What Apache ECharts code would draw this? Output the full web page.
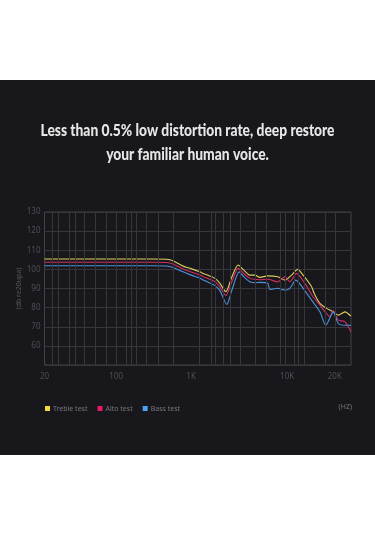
<!DOCTYPE html>
<html>
<head>
<meta charset="utf-8">
<script src="https://cdn.jsdelivr.net/npm/echarts@6/dist/echarts.min.js"></script>
<style>
html,body{margin:0;padding:0;background:#ffffff;}
#band{position:absolute;left:0;top:80px;width:375px;height:375px;background:#18181c;}
#chart{position:absolute;left:0;top:0;width:375px;height:535px;}
</style>
</head>
<body>
<div id="band"></div>
<div id="chart"></div>
<script>
// ---- data ----
const titleLines = ['Less than 0.5% low distortion rate, deep restore', 'your familiar human voice.'];
const seriesNames = ['Treble test', 'Alto test', 'Bass test'];
const xTickFreqs = [20, 100, 1000, 10000, 20000];
const xTickLabels = ['20', '100', '1K', '10K', '20K'];
const yTicks = [60, 70, 80, 90, 100, 110, 120, 130];
const freqMax = 25300;

const trebleFreq = [20, 100, 300, 470, 590, 782, 1000, 1232, 1334, 1766, 1990, 2298, 2655, 3090, 3540, 4087, 4610, 5198, 6296, 8000, 9460, 10660, 11640, 12620, 14270, 14820, 16100, 17760, 19560, 21030, 23180, 25300];
const trebleVal  = [105.4, 105.4, 105.4, 105.3, 104.3, 101.7, 100.4, 98.7, 97.9, 95.3, 92.8, 88.3, 96.0, 102.3, 99.6, 97.0, 97.0, 95.8, 96.6, 96.1, 94.4, 97.0, 100.0, 97.0, 90.9, 87.4, 82.2, 79.6, 77.8, 76.1, 77.8, 75.5];

const altoFreq = [20, 100, 300, 470, 590, 782, 1000, 1232, 1334, 1766, 1990, 2298, 2655, 3090, 3540, 4087, 4610, 5198, 6296, 8000, 9460, 10400, 11470, 12940, 14550, 16100, 17330, 18630, 19560, 21030, 23180, 25300];
const altoVal  = [103.7, 103.7, 103.7, 103.6, 102.6, 100.2, 98.6, 97.0, 96.2, 93.5, 91.0, 86.2, 93.5, 100.5, 97.8, 95.3, 94.8, 94.6, 94.8, 93.5, 96.1, 93.5, 97.9, 92.7, 85.7, 81.3, 77.8, 75.2, 78.3, 73.5, 72.6, 67.3];

const bassFreq = [20, 100, 300, 470, 590, 782, 1000, 1232, 1334, 1766, 1990, 2355, 2655, 3170, 3540, 4087, 4610, 5198, 6296, 6607, 8000, 9460, 10400, 11350, 12620, 14270, 16100, 17550, 19560, 21030, 23180, 25300];
const bassVal  = [101.9, 101.9, 101.9, 101.8, 100.8, 98.7, 97.0, 95.3, 94.5, 91.5, 89.0, 81.7, 89.0, 98.7, 96.1, 93.5, 93.0, 93.2, 92.7, 89.5, 90.1, 89.2, 90.1, 94.4, 90.1, 83.9, 77.8, 70.8, 77.8, 71.7, 70.8, 70.8];

// decorative vertical grid lines (frequencies)
const vGridFreqs = [23.7, 27.2, 34.8, 40.2, 48.4, 63, 80.6, 100, 134.7, 157, 183, 254, 363, 575, 1211, 1632, 1796, 2155, 2572, 3215, 4688, 5998, 8393, 9623, 11025, 11740, 12755, 17320, 20250];

// ---- warped frequency scale (the original axis is not a pure log scale) ----
const warpKnots = [0, 71.6, 146.6, 242.6, 290.3];
function warp(f) {
  const L = Math.log10;
  let i = 0;
  while (i < xTickFreqs.length - 2 && f > xTickFreqs[i + 1]) i++;
  const f0 = xTickFreqs[i], f1 = xTickFreqs[i + 1];
  const p0 = warpKnots[i], p1 = warpKnots[i + 1];
  return p0 + (L(f) - L(f0)) / (L(f1) - L(f0)) * (p1 - p0);
}
const xMax = warp(freqMax);
const tickPos = xTickFreqs.map(warp);

function pairs(fs, vs) { return fs.map((f, i) => [warp(f), vs[i]]); }

// title font: condensed look obtained by horizontal scaling
const titleFont = '900 16px Lato, "Noto Sans", sans-serif';
const mctx = document.createElement('canvas').getContext('2d');
mctx.font = titleFont;
const titleScale = 294 / mctx.measureText(titleLines[0]).width;

const lineColors = ['#dccd5a', '#d22a64', '#4b93dc'];
const iconColors = ['#f3d93e', '#e8186a', '#4aa3f2'];
const gridColor = '#36363b';

const chart = echarts.init(document.getElementById('chart'), null, {renderer: 'canvas'});
const mkSeries = (name, data, idx) => ({
  name, type: 'line', data, smooth: 0.25, symbol: 'none', z: 3,
  lineStyle: {color: lineColors[idx], width: 1.1},
  itemStyle: {color: iconColors[idx]},
  emphasis: {disabled: true}
});

chart.setOption({
  backgroundColor: 'transparent',
  animation: false,
  textStyle: {fontFamily: 'Noto Sans'},
  grid: {left: 44.5, top: 212, width: 306.5, height: 153, show: true, borderColor: '#414146', borderWidth: 1, containLabel: false},
  legend: {
    data: seriesNames, left: 40, top: 400, itemWidth: 5, itemHeight: 5, itemGap: 10, icon: 'rect',
    textStyle: {color: '#76767b', fontSize: 7, fontFamily: 'Noto Sans', padding: [0, 0, 0, -2]}
  },
  graphic: [
    {type: 'text', x: 187.5, y: 130.5, scaleX: titleScale, style: {text: titleLines[0], fill: '#e6e6e6', font: titleFont, textAlign: 'center', textVerticalAlign: 'middle'}},
    {type: 'text', x: 187.5, y: 154.5, scaleX: titleScale, style: {text: titleLines[1], fill: '#e6e6e6', font: titleFont, textAlign: 'center', textVerticalAlign: 'middle'}},
    {type: 'text', right: 23, top: 403, style: {text: '(HZ)', fill: '#76767b', font: '7px "Noto Sans"'}}
  ],
  xAxis: {
    type: 'value', min: 0, max: xMax,
    axisLine: {show: false}, axisTick: {show: false}, splitLine: {show: false},
    axisLabel: {
      customValues: tickPos, color: '#4e4e54', fontSize: 8, margin: 8,
      formatter: v => { let k = 0, d = Infinity; tickPos.forEach((p, i) => { if (Math.abs(p - v) < d) { d = Math.abs(p - v); k = i; } }); return xTickLabels[k]; }
    }
  },
  yAxis: {
    type: 'value', min: 50, max: 130, interval: 10,
    name: '(db re20upa)', nameLocation: 'middle', nameGap: 22, nameRotate: 90, nameMoveOverlap: false,
    nameTextStyle: {color: '#55555b', fontSize: 7, fontFamily: 'Noto Sans'},
    axisLine: {show: false}, axisTick: {show: false},
    axisLabel: {color: '#4e4e54', fontSize: 8, margin: 4, formatter: v => (yTicks.indexOf(v) >= 0 ? String(v) : '')},
    splitLine: {show: true, lineStyle: {color: gridColor, width: 1}}
  },
  series: [
    {
      type: 'line', data: [], z: 1, silent: true, symbol: 'none',
      markLine: {
        silent: true, symbol: ['none', 'none'], label: {show: false}, animation: false,
        lineStyle: {color: gridColor, width: 1, type: 'solid'},
        emphasis: {disabled: true},
        data: vGridFreqs.map(f => ({xAxis: warp(f)}))
      }
    },
    mkSeries(seriesNames[0], pairs(trebleFreq, trebleVal), 0),
    mkSeries(seriesNames[1], pairs(altoFreq, altoVal), 1),
    mkSeries(seriesNames[2], pairs(bassFreq, bassVal), 2)
  ]
});
</script>
</body>
</html>
